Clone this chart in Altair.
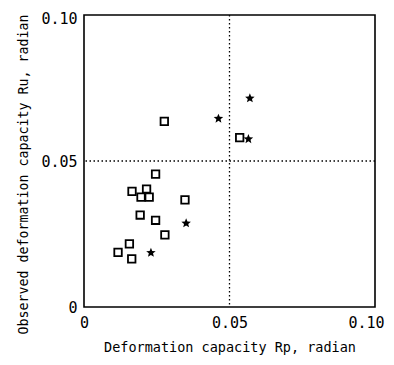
import altair as alt
import pandas as pd

# Open squares
sq_x = [0.0276, 0.0535, 0.0246, 0.0165, 0.0215, 0.0196, 0.0224, 0.0347,
        0.0193, 0.0246, 0.0278, 0.0156, 0.0117, 0.0164]
sq_y = [0.0636, 0.0580, 0.0455, 0.0396, 0.0404, 0.0376, 0.0376, 0.0367,
        0.0315, 0.0297, 0.0247, 0.0216, 0.0187, 0.0165]

# Filled stars
star_x = [0.0462, 0.0565, 0.0570, 0.0351, 0.0230]
star_y = [0.0645, 0.0575, 0.0715, 0.0287, 0.0186]

ref_value = [0.05]
tick_values = [0, 0.05, 0.10]
tick_labels = ["0", "0.05", "0.10"]

sq_df = pd.DataFrame({"x": sq_x, "y": sq_y})
star_df = pd.DataFrame({"x": star_x, "y": star_y})
ref_df = pd.DataFrame({"v": ref_value})

FONT = "DejaVu Sans Mono"
label_expr = ("datum.value == 0 ? '%s' : datum.value < 0.075 ? '%s' : '%s'"
              % tuple(tick_labels))

xscale = alt.Scale(domain=[0, 0.10], nice=False, zero=False)
yscale = alt.Scale(domain=[0, 0.10], nice=False, zero=False)

xaxis = alt.Axis(values=tick_values, labelExpr=label_expr, grid=False, domain=False,
                 ticks=False, labelFont=FONT, labelFontSize=15, labelColor="black",
                 labelPadding=8, title="Deformation capacity Rp, radian",
                 titleFont=FONT, titleFontSize=13.5, titleFontWeight="normal",
                 titleColor="black", titlePadding=10, labelFlush=False,
                 labelOffset=alt.condition("datum.value > 0.09", alt.value(-9), alt.value(0)))
yaxis = alt.Axis(values=tick_values, labelExpr=label_expr, grid=False, domain=False,
                 ticks=False, labelFont=FONT, labelFontSize=15, labelColor="black",
                 labelPadding=7, title="Observed deformation capacity Ru, radian",
                 titleFont=FONT, titleFontSize=13.3, titleFontWeight="normal",
                 titleColor="black", titlePadding=10, labelFlush=False, titleY=159,
                 labelOffset=alt.condition("datum.value > 0.09", alt.value(3), alt.value(0)))

star_path = ("M0,-1L0.26,-0.36L0.951,-0.309L0.42,0.137L0.588,0.809L0,0.44"
             "L-0.588,0.809L-0.42,0.137L-0.951,-0.309L-0.26,-0.36Z")

squares = alt.Chart(sq_df).mark_point(
    shape="square", size=56, filled=False, color="black", strokeWidth=1.8, opacity=1
).encode(
    x=alt.X("x:Q", scale=xscale, axis=xaxis),
    y=alt.Y("y:Q", scale=yscale, axis=yaxis),
)

stars = alt.Chart(star_df).mark_point(
    shape=star_path, size=100, filled=True, color="black", opacity=1
).encode(
    x=alt.X("x:Q", scale=xscale),
    y=alt.Y("y:Q", scale=yscale),
)

vrule = alt.Chart(ref_df).mark_rule(
    color="black", strokeWidth=1.3, strokeDash=[1.5, 2.5]
).encode(x=alt.X("v:Q", scale=xscale))

hrule = alt.Chart(ref_df).mark_rule(
    color="black", strokeWidth=1.3, strokeDash=[1.5, 2.5]
).encode(y=alt.Y("v:Q", scale=yscale))

chart = alt.layer(vrule, hrule, squares, stars).properties(
    width=291, height=292,
    autosize=alt.AutoSizeParams(type="none"),
    padding={"left": 76, "top": 7, "right": 10, "bottom": 50},
    background="white",
).configure_view(
    stroke="black", strokeWidth=1.6
)

chart.save("out.html", embed_options={"renderer": "svg", "actions": False})
